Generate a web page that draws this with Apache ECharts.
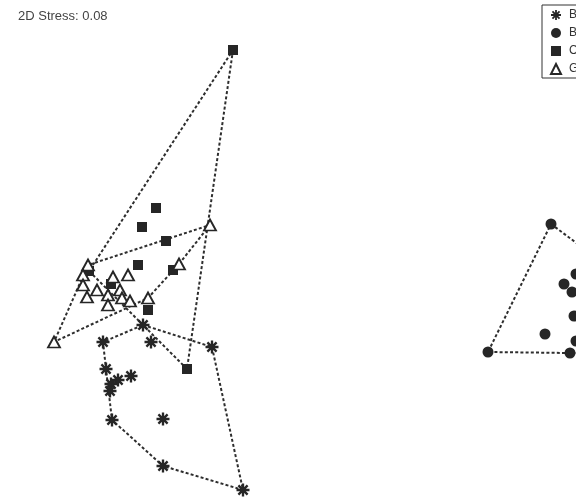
<!DOCTYPE html>
<html>
<head>
<meta charset="utf-8">
<script src="https://cdn.jsdelivr.net/npm/echarts@6/dist/echarts.min.js"></script>
<style>
html,body{margin:0;padding:0;background:#fff;overflow:hidden;}
#chart{width:576px;height:497px;}
</style>
</head>
<body>
<div id="chart"></div>
<script>
// MDS ordination coordinates (arbitrary units)
var groupNames = ['B1', 'B2', 'C', 'G'];
var stressLabel = '2D Stress: 0.08';

var groupB1 = [[-1.57,-0.75],[-1.97,-0.92],[-1.49,-0.92],[-0.88,-0.97],[-1.94,-1.19],[-1.69,-1.26],
  [-1.82,-1.30],[-1.89,-1.34],[-1.90,-1.41],[-1.88,-1.70],[-1.37,-1.69],[-1.37,-2.16],[-0.57,-2.40]];
var groupB2 = [[2.51,0.26],[1.88,-1.02],[2.70,-1.03],[2.45,-0.84],[2.64,-0.34],[2.72,-0.42],
  [2.76,-0.24],[2.74,-0.66],[2.76,-0.91],[3.10,-0.18],[3.20,-1.02]];
var groupC = [[-0.67,2.00],[-1.44,0.42],[-1.58,0.23],[-1.34,0.09],[-1.62,-0.15],[-1.27,-0.20],
  [-2.11,-0.21],[-1.89,-0.34],[-1.52,-0.60],[-1.13,-1.19]];
var groupG = [[-0.90,0.25],[-2.12,-0.15],[-2.46,-0.92],[-1.52,-0.48],[-1.21,-0.14],[-2.17,-0.25],
  [-2.17,-0.35],[-2.13,-0.47],[-2.03,-0.40],[-1.92,-0.45],[-1.92,-0.55],[-1.87,-0.27],[-1.72,-0.25],
  [-1.80,-0.40],[-1.78,-0.48],[-1.70,-0.51]];

// convex hull vertex indices (into each group)
var hullB1 = [0,3,12,11,9,4,1];
var hullB2 = [0,9,10,2,1];
var hullC = [0,9,6];
var hullG = [0,4,3,2,1];

function hullLine(pts, idx){
  var out = idx.map(function(i){return pts[i];});
  out.push(pts[idx[0]]);
  return out;
}

// asterisk symbol path
function asteriskPath(){
  var s = '';
  var c = 50, L = 50, W = 9;
  [0,45,90,135].forEach(function(a){
    var r = a*Math.PI/180, co = Math.cos(r), si = Math.sin(r);
    var pts = [[-L,-W],[L,-W],[L,W],[-L,W]].map(function(p){
      return [(c + p[0]*co - p[1]*si).toFixed(2), (c + p[0]*si + p[1]*co).toFixed(2)];
    });
    s += 'M' + pts[0].join(' ') + 'L' + pts[1].join(' ') + 'L' + pts[2].join(' ') + 'L' + pts[3].join(' ') + 'Z';
  });
  return 'path://' + s;
}

var ink = '#262626';
var lineStyle = {color:'#2e2e2e', width:2, type:[3,2.2]};
function hullSeries(data){
  return {type:'line', data:data, symbol:'none', lineStyle:lineStyle, silent:true, z:1,
    animation:false, legendHoverLink:false};
}

var chart = echarts.init(document.getElementById('chart'), null, {renderer:'canvas'});
chart.setOption({
  animation:false,
  backgroundColor:'#fff',
  title:{text:stressLabel, left:18, top:10, padding:0,
    textStyle:{fontFamily:'Liberation Sans', fontSize:13, fontWeight:'normal', color:'#444'}},
  legend:{
    data:groupNames, orient:'vertical', left:542, top:5,
    padding:[4,8,3,8], itemGap:6, itemWidth:10, itemHeight:10,
    borderColor:'#333', borderWidth:1,
    textStyle:{fontFamily:'Liberation Sans', fontSize:12, color:'#333', padding:[0,0,0,3]}
  },
  grid:{left:0, top:0, width:576, height:497, containLabel:false},
  xAxis:{type:'value', min:-3, max:2.76, show:false},
  yAxis:{type:'value', min:-2.47, max:2.5, show:false},
  series:[
    hullSeries(hullLine(groupB1, hullB1)),
    hullSeries(hullLine(groupB2, hullB2)),
    hullSeries(hullLine(groupC, hullC)),
    hullSeries(hullLine(groupG, hullG)),
    {name:'B1', type:'scatter', data:groupB1, symbol:asteriskPath(), symbolSize:13, z:3,
      itemStyle:{color:ink, opacity:1}},
    {name:'B2', type:'scatter', data:groupB2, symbol:'circle', symbolSize:11, z:3,
      itemStyle:{color:ink, opacity:1}},
    {name:'C', type:'scatter', data:groupC, symbol:'rect', symbolSize:10, z:3,
      itemStyle:{color:ink, opacity:1}},
    {name:'G', type:'scatter', data:groupG, symbol:'triangle', symbolSize:[12,11], z:4,
      itemStyle:{color:'#fff', borderColor:ink, borderWidth:1.8, opacity:1}}
  ]
});
</script>
</body>
</html>
